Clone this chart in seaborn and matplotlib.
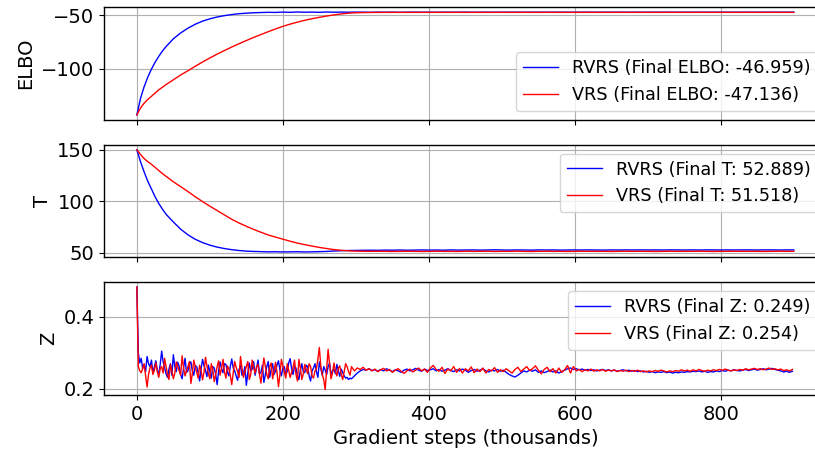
import numpy as np
import matplotlib
matplotlib.use("Agg")
import matplotlib.pyplot as plt
import seaborn as sns

# ---------------- data ----------------
x_curve = [0, 5, 10, 15, 20, 25, 30, 35] + list(range(40, 901, 10))

elbo_rvrs = [-143.5, -128, -117, -108, -100.5, -94, -88.5, -83.5,
             -79.3, -72, -66.5, -62, -58.3, -55.4, -53.2, -51.5, -50.2, -49.2,
             -48.4, -47.9, -47.5, -47.3, -47.1, -47.2, -46.9, -47.1, -46.8, -47.0,
             -46.9, -47.1, -46.8, -47.0, -46.9, -47.0, -46.9,
             -46.95, -47.05, -46.9, -47.0, -46.92, -47.08, -46.98, -46.9, -47.02, -46.96,
             -47.04, -46.93, -47.0, -46.97, -46.91, -47.03, -46.98, -46.94, -47.01, -46.96,
             -46.99, -46.93, -47.02, -46.97, -46.95, -47.0, -46.94, -46.98, -46.96, -47.01,
             -46.95, -46.97, -46.99, -46.94, -46.97, -46.96, -47.0, -46.95, -46.97, -46.98,
             -46.95, -46.97, -46.96, -46.99, -46.95, -46.97, -46.96, -46.98, -46.95, -46.97,
             -46.96, -46.97, -46.95, -46.97, -46.96, -46.98, -46.95, -46.96, -46.97, -46.959]

elbo_vrs = [-143.5, -137, -132.5, -129, -126, -123, -120, -117.5,
            -115, -110.5, -106, -102, -97.8, -93.8, -90, -86.4, -83, -79.7,
            -76.6, -73.6, -70.7, -68, -65.3, -62.7, -60.3, -58.2, -56.3, -54.6,
            -53.1, -51.8, -50.6, -49.5, -48.6, -47.9, -47.5,
            -47.35, -47.25, -47.2, -47.17, -47.15, -47.14, -47.16, -47.13, -47.15, -47.14,
            -47.13, -47.15, -47.14, -47.12, -47.15, -47.14, -47.13, -47.15, -47.14, -47.13,
            -47.14, -47.15, -47.13, -47.14, -47.15, -47.13, -47.14, -47.14, -47.15, -47.13,
            -47.14, -47.13, -47.15, -47.14, -47.14, -47.13, -47.15, -47.14, -47.13, -47.14,
            -47.15, -47.14, -47.13, -47.14, -47.14, -47.15, -47.13, -47.14, -47.14, -47.13,
            -47.14, -47.15, -47.14, -47.13, -47.14, -47.14, -47.13, -47.14, -47.15, -47.136]

t_rvrs = [150, 138.5, 128.5, 119.5, 112, 104.5, 98, 92.5,
          87.5, 80, 73, 67.5, 63.2, 60, 57.5, 55.6, 54.2, 53.1,
          52.3, 51.7, 51.4, 51.2, 51.0, 51.1, 50.9, 51.0, 51.1, 50.9,
          51.0, 51.2, 51.4, 51.8, 52.1, 52.3, 52.4,
          52.5, 52.6, 52.5, 52.7, 52.6, 52.8, 52.6, 52.7, 52.9, 52.7,
          52.8, 52.6, 52.9, 52.7, 52.8, 52.9, 52.7, 52.8, 53.0, 52.8,
          52.7, 52.9, 52.8, 52.7, 52.9, 52.8, 52.9, 52.7, 52.8, 52.9,
          52.8, 52.9, 52.8, 52.7, 52.9, 52.8, 52.9, 52.8, 52.9, 52.8,
          52.9, 52.8, 52.9, 52.9, 52.8, 52.9, 52.8, 52.9, 52.9, 52.8,
          52.9, 52.8, 52.9, 52.9, 52.8, 52.9, 52.9, 52.8, 52.9, 52.889]

t_vrs = [150, 145.5, 141.5, 138.5, 136, 133, 130, 127,
         124.3, 119, 114.3, 109.5, 104.5, 99.8, 95.3, 91.1, 86.8, 82.6,
         79, 75.8, 72.8, 70, 67.4, 65.3, 63.3, 61.3, 59.5, 58,
         56.6, 55.3, 54.2, 53.2, 52.5, 52, 51.7,
         51.6, 51.5, 51.6, 51.5, 51.4, 51.5, 51.6, 51.5, 51.4, 51.5,
         51.6, 51.5, 51.5, 51.4, 51.6, 51.5, 51.5, 51.6, 51.4, 51.5,
         51.5, 51.6, 51.5, 51.4, 51.5, 51.6, 51.5, 51.5, 51.4, 51.5,
         51.6, 51.5, 51.5, 51.5, 51.4, 51.5, 51.6, 51.5, 51.5, 51.5,
         51.4, 51.5, 51.6, 51.5, 51.5, 51.5, 51.6, 51.5, 51.4, 51.5,
         51.5, 51.6, 51.5, 51.5, 51.5, 51.4, 51.5, 51.6, 51.5, 51.518]

# Z: dense early part (x = 0, 2, 4, ... ) then sparser late part (x = 302, 306, ...)
z_rvrs_head = [0.483,
    0.300, 0.272, 0.285, 0.256, 0.268, 0.248, 0.290, 0.270, 0.262, 0.280,
    0.245, 0.262, 0.278, 0.252, 0.240, 0.268, 0.305, 0.275, 0.258, 0.242,
    0.232, 0.255, 0.270, 0.238, 0.295, 0.262, 0.248, 0.274, 0.262, 0.240,
    0.228, 0.258, 0.285, 0.246, 0.250, 0.268, 0.275, 0.250, 0.238, 0.264,
    0.262, 0.244, 0.222, 0.256, 0.282, 0.264, 0.252, 0.234, 0.266, 0.248,
    0.230, 0.262, 0.258, 0.240, 0.212, 0.250, 0.275, 0.256, 0.245, 0.270,
    0.268, 0.248, 0.236, 0.262, 0.283, 0.258, 0.250, 0.236, 0.224, 0.254,
    0.265, 0.238, 0.242, 0.262, 0.210, 0.244, 0.272, 0.250, 0.255, 0.276,
    0.238, 0.258, 0.280, 0.242, 0.246, 0.266, 0.218, 0.240, 0.262, 0.276,
    0.232, 0.254, 0.270, 0.240, 0.250, 0.266, 0.278, 0.252, 0.236, 0.258,
    0.262, 0.240, 0.248, 0.272, 0.284, 0.256, 0.240, 0.262, 0.258, 0.236,
    0.226, 0.252, 0.270, 0.248, 0.245, 0.266, 0.262, 0.236, 0.222, 0.250,
    0.258, 0.270, 0.248, 0.232, 0.275, 0.256, 0.238, 0.262, 0.252, 0.240,
    0.262, 0.272, 0.240, 0.250, 0.255, 0.242, 0.268, 0.250, 0.235, 0.255,
    0.245, 0.236, 0.230, 0.232, 0.226, 0.230, 0.228, 0.232, 0.236]

z_rvrs_tail = [
    0.244, 0.250, 0.254, 0.252, 0.256, 0.251, 0.253, 0.249, 0.254, 0.250,
    0.256, 0.252, 0.248, 0.253, 0.250, 0.246, 0.252, 0.255, 0.250, 0.253,
    0.257, 0.252, 0.249, 0.255, 0.251, 0.253, 0.256, 0.250, 0.254, 0.249,
    0.252, 0.256, 0.251, 0.248, 0.253, 0.250, 0.255, 0.252, 0.246, 0.251,
    0.254, 0.249, 0.252, 0.256, 0.250, 0.247, 0.252, 0.250, 0.254, 0.249,
    0.252, 0.246, 0.240, 0.236, 0.233, 0.238, 0.244, 0.250, 0.247, 0.252,
    0.249, 0.253, 0.246, 0.250, 0.245, 0.248, 0.252, 0.247, 0.250, 0.244,
    0.248, 0.252, 0.256, 0.258, 0.254, 0.256, 0.253, 0.255, 0.252, 0.254,
    0.251, 0.253, 0.250, 0.252, 0.254, 0.251, 0.253, 0.250, 0.252, 0.249,
    0.251, 0.253, 0.250, 0.252, 0.249, 0.251, 0.248, 0.250, 0.247, 0.249,
    0.246, 0.248, 0.245, 0.247, 0.246, 0.248, 0.245, 0.247, 0.244, 0.246,
    0.245, 0.247, 0.246, 0.248, 0.247, 0.249, 0.248, 0.250, 0.247, 0.249,
    0.246, 0.248, 0.247, 0.250, 0.248, 0.251, 0.249, 0.252, 0.250, 0.253,
    0.251, 0.250, 0.252, 0.254, 0.251, 0.253, 0.255, 0.252, 0.254, 0.256,
    0.253, 0.255, 0.257, 0.254, 0.252, 0.250, 0.247, 0.249, 0.246, 0.249]

z_vrs_head = [0.483,
    0.262, 0.250, 0.245, 0.258, 0.270, 0.236, 0.205, 0.240, 0.258, 0.266,
    0.240, 0.252, 0.272, 0.248, 0.232, 0.256, 0.262, 0.244, 0.285, 0.262,
    0.240, 0.226, 0.268, 0.250, 0.228, 0.244, 0.275, 0.262, 0.250, 0.238,
    0.292, 0.258, 0.236, 0.250, 0.262, 0.276, 0.215, 0.242, 0.280, 0.262,
    0.246, 0.230, 0.266, 0.252, 0.225, 0.246, 0.288, 0.264, 0.242, 0.228,
    0.270, 0.254, 0.220, 0.240, 0.262, 0.278, 0.238, 0.256, 0.282, 0.248,
    0.230, 0.264, 0.256, 0.238, 0.212, 0.244, 0.276, 0.260, 0.248, 0.232,
    0.290, 0.258, 0.232, 0.248, 0.262, 0.276, 0.226, 0.240, 0.280, 0.258,
    0.244, 0.262, 0.268, 0.240, 0.216, 0.252, 0.286, 0.262, 0.240, 0.228,
    0.262, 0.272, 0.228, 0.250, 0.274, 0.246, 0.206, 0.240, 0.282, 0.264,
    0.246, 0.230, 0.270, 0.252, 0.232, 0.246, 0.260, 0.280, 0.240, 0.222,
    0.282, 0.258, 0.226, 0.242, 0.268, 0.254, 0.242, 0.270, 0.262, 0.236,
    0.230, 0.250, 0.256, 0.282, 0.315, 0.262, 0.240, 0.226, 0.198, 0.256,
    0.310, 0.270, 0.228, 0.244, 0.272, 0.250, 0.236, 0.258, 0.264, 0.240,
    0.226, 0.248, 0.270, 0.262, 0.248, 0.238, 0.262, 0.256, 0.250]

z_vrs_tail = [
    0.258, 0.254, 0.260, 0.252, 0.256, 0.250, 0.255, 0.248, 0.253, 0.257,
    0.250, 0.254, 0.246, 0.252, 0.256, 0.249, 0.243, 0.250, 0.255, 0.247,
    0.252, 0.258, 0.250, 0.255, 0.246, 0.258, 0.265, 0.254, 0.249, 0.260,
    0.243, 0.255, 0.250, 0.262, 0.246, 0.257, 0.244, 0.256, 0.250, 0.261,
    0.245, 0.255, 0.248, 0.258, 0.244, 0.254, 0.250, 0.259, 0.246, 0.253,
    0.248, 0.256, 0.250, 0.244, 0.254, 0.260, 0.248, 0.255, 0.262, 0.251,
    0.256, 0.264, 0.252, 0.242, 0.254, 0.260, 0.248, 0.256, 0.244, 0.258,
    0.246, 0.253, 0.265, 0.244, 0.262, 0.250, 0.254, 0.248, 0.253, 0.250,
    0.255, 0.249, 0.253, 0.250, 0.254, 0.249, 0.252, 0.250, 0.253, 0.248,
    0.251, 0.249, 0.252, 0.248, 0.251, 0.249, 0.252, 0.248, 0.250, 0.247,
    0.250, 0.248, 0.251, 0.249, 0.252, 0.250, 0.247, 0.250, 0.248, 0.251,
    0.249, 0.253, 0.250, 0.252, 0.249, 0.253, 0.250, 0.254, 0.251, 0.249,
    0.252, 0.250, 0.253, 0.251, 0.254, 0.252, 0.255, 0.252, 0.250, 0.253,
    0.251, 0.254, 0.252, 0.256, 0.253, 0.255, 0.257, 0.254, 0.256, 0.253,
    0.255, 0.258, 0.254, 0.256, 0.253, 0.255, 0.251, 0.253, 0.250, 0.254]

final_elbo = {"RVRS": -46.959, "VRS": -47.136}
final_t = {"RVRS": 52.889, "VRS": 51.518}
final_z = {"RVRS": 0.249, "VRS": 0.254}

xlabel = "Gradient steps (thousands)"
x_ticks = [0, 200, 400, 600, 800]


def z_series(head, tail):
    xs = [0] + [2 + 2 * k for k in range(len(head) - 1)] + [302 + 4 * k for k in range(len(tail))]
    return xs, head + tail


# ---------------- plot ----------------
FS = 14
LFS = 12.7
fig = plt.figure(figsize=(8.15, 4.51), dpi=100)
left, width = 104 / 815, (826.7 - 104) / 815
ax1 = fig.add_axes([left, (451 - 120) / 451, width, 113 / 451])
ax2 = fig.add_axes([left, (451 - 257) / 451, width, 112.3 / 451], sharex=ax1)
ax3 = fig.add_axes([left, (451 - 395) / 451, width, 113 / 451], sharex=ax1)


def draw(ax, xb, yb, xr, yr, name, finals, loc):
    nb = min(len(xb), len(yb))
    nr = min(len(xr), len(yr))
    sns.lineplot(x=xb[:nb], y=yb[:nb], ax=ax, color="blue", linewidth=1.0,
                 label=f"RVRS (Final {name}: {finals['RVRS']:.3f})")
    sns.lineplot(x=xr[:nr], y=yr[:nr], ax=ax, color="red", linewidth=1.0,
                 label=f"VRS (Final {name}: {finals['VRS']:.3f})")
    ax.grid(True, color="#b0b0b0", linewidth=0.8)
    ax.set_ylabel(name, fontsize=FS)
    ax.tick_params(labelsize=FS)
    ax.legend(loc=loc, fontsize=LFS)
    for s in ax.spines.values():
        s.set_linewidth(1.0)


draw(ax1, x_curve, elbo_rvrs, x_curve, elbo_vrs, "ELBO", final_elbo, "lower right")
draw(ax2, x_curve, t_rvrs, x_curve, t_vrs, "T", final_t, "upper right")
xzb, yzb = z_series(z_rvrs_head, z_rvrs_tail)
xzr, yzr = z_series(z_vrs_head, z_vrs_tail)
draw(ax3, xzb, yzb, xzr, yzr, "Z", final_z, "upper right")

ax1.set_yticks([-100, -50])
ax1.set_ylim(-148.3, -42.1)
ax2.set_yticks([50, 100, 150])
ax2.set_ylim(46, 155)
ax3.set_yticks([0.2, 0.4])
ax3.set_ylim(0.183, 0.497)

ax3.set_xticks(x_ticks)
ax3.set_xlim(-45, 945)
ax1.tick_params(labelbottom=False)
ax2.tick_params(labelbottom=False)
ax3.set_xlabel(xlabel, fontsize=FS)

fig.savefig("out.png", dpi=100)
